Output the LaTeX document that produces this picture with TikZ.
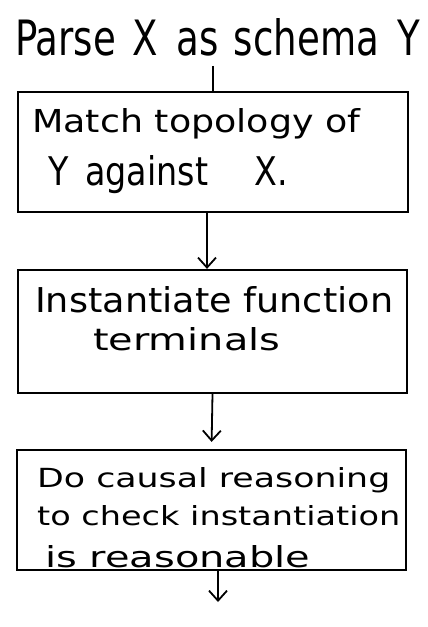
\documentclass[tikz,border=0pt]{standalone}
\usepackage{fontspec}
\usepackage{graphicx}
\setmainfont{DejaVu Sans}
\usetikzlibrary{arrows.meta}
\newcommand{\hw}[3]{\resizebox{#1pt}{#2pt}{#3}}
\tikzset{
  box/.style={draw, line width=2.2pt, rectangle, inner sep=0pt},
  txt/.style={inner sep=0pt, anchor=base west, text=black},
  conn/.style={line width=1.8pt},
  arr/.style={line width=1.8pt, -{Straight Barb[length=10pt,width=18pt,line width=1.8pt]}}
}
\begin{document}
\begin{tikzpicture}[x=1pt,y=-1pt]
\fill[white] (0,0) rectangle (428,627);
\useasboundingbox (0,0) rectangle (428,627);
% title
\node[txt] (title) at (15,55) {\hw{405}{37}{Parse\hspace{0.45em}X\hspace{0.5em}as\hspace{0.4em}schema\hspace{0.5em}Y}};
% boxes
\node[box, minimum width=390pt, minimum height=120pt] (b1) at (213,152) {};
\node[box, minimum width=389pt, minimum height=123pt] (b2) at (212.5,331.5) {};
\node[box, minimum width=389pt, minimum height=120pt] (b3) at (211.5,510) {};
% box texts
\node[txt] (t1a) at (32,132) {\hw{328}{24}{Match topology of}};
\node[txt] (t1b) at (48,185) {\hw{240}{30}{Y\hspace{0.5em}against\hspace{1.4em}X.}};
\node[txt] (t2a) at (35,312) {\hw{358}{26}{Instantiate function}};
\node[txt] (t2b) at (93,350) {\hw{187}{23}{terminals}};
\node[txt] (t3a) at (37,487) {\hw{353}{20}{Do causal reasoning}};
\node[txt] (t3b) at (37,525) {\hw{363}{20}{to check instantiation}};
\node[txt] (t3c) at (45,567) {\hw{265}{22}{is reasonable}};
% connectors
\coordinate (end) at (218,602);
\draw[conn] ([yshift=-10pt]title.south -| b1.north) -- (b1.north);
\draw[arr] ([xshift=-6pt]b1.south) -- ([xshift=-5.5pt]b2.north);
\draw[arr, shorten >=7pt] (b2.south) -- (b3.north);
\draw[arr] (b3.south -| end) -- (end);
\end{tikzpicture}
\end{document}
